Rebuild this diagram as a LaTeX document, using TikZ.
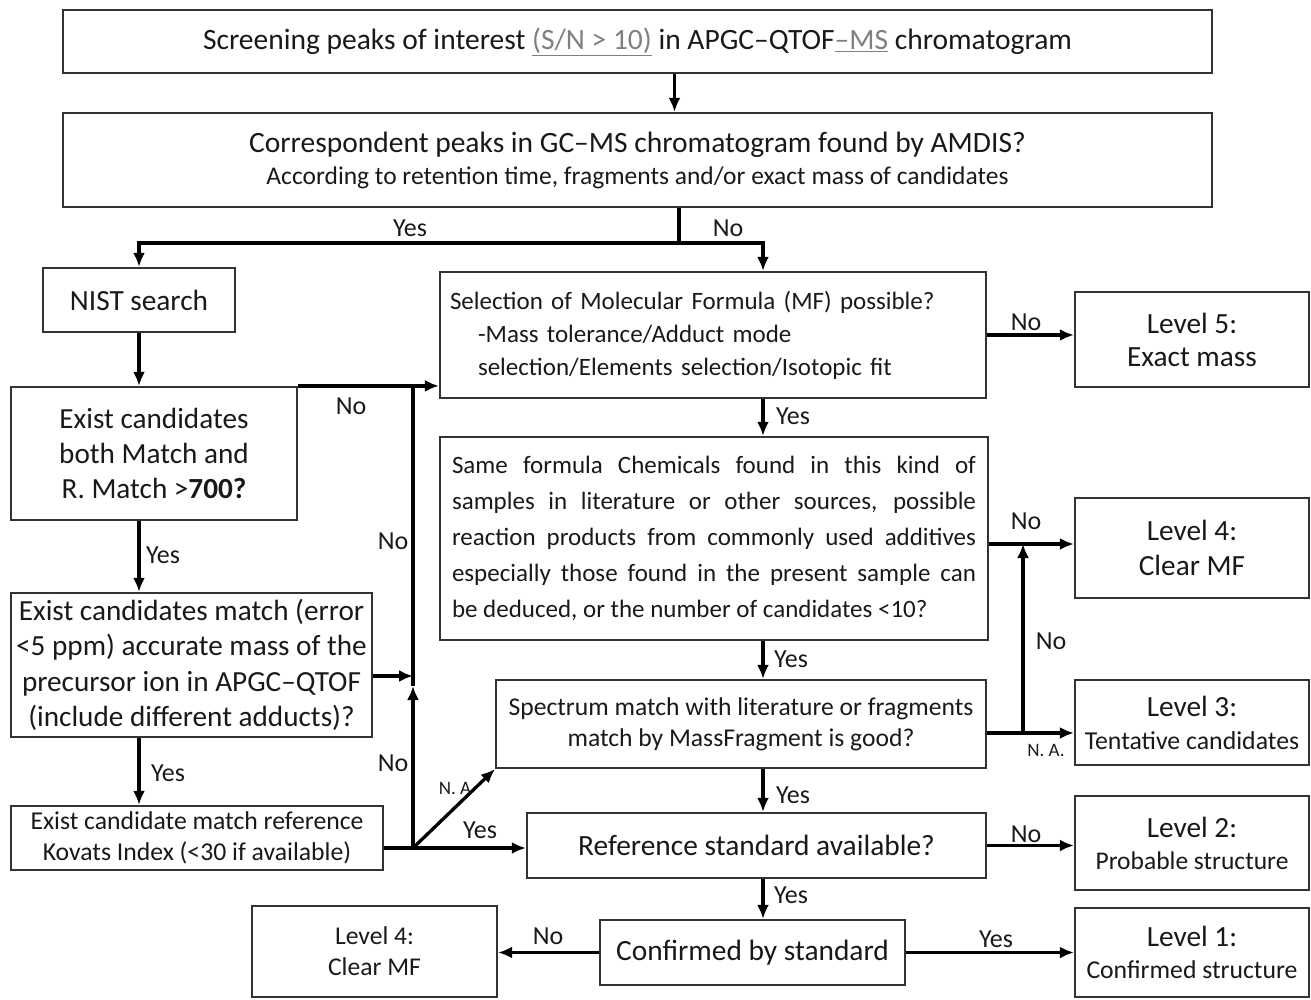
\documentclass[tikz,border=0pt]{standalone}
\usepackage{fontspec}
\setmainfont{Carlito}
\usepackage{tikz}
\usetikzlibrary{arrows.meta}

\begin{document}
\begin{tikzpicture}[x=1pt,y=-1pt,
	box/.style={draw=black!80,line width=2.2pt,inner sep=0pt,align=center,text=black!90},
	arr/.style={line width=3.3pt,-{Latex[length=14pt,width=12pt]}},
	ln/.style={line width=3.3pt},
	lbl/.style={font=\fontsize{26}{30}\selectfont,text=black!90},
	small/.style={font=\fontsize{19}{22}\selectfont,text=black!90}]
	
	\useasboundingbox (0,0) rectangle (1311,999);
	
	% top part
	\node[box,minimum width=1149pt,minimum height=63pt,font=\fontsize{29.5}{34}\selectfont] (top) at (637.5,41.5)
		{Screening peaks of interest \textcolor{gray}{\underline{(S/N > 10)}} in APGC--QTOF\textcolor{gray}{\underline{--MS}} chromatogram};
	\node[box,minimum width=1149pt,minimum height=94pt,font=\fontsize{29.5}{34}\selectfont] (amdis) at (637.5,160)
		{Correspondent peaks in GC--MS chromatogram found by AMDIS?\\[-2pt]
		{\fontsize{25.5}{28}\selectfont According to retention time, fragments and/or exact mass of candidates}};
	
	% left column
	\node[box,minimum width=192pt,minimum height=64pt,font=\fontsize{29.3}{34}\selectfont] (nist) at (139,300) {NIST search};
	\node[box,minimum width=286pt,minimum height=133pt,font=\fontsize{29.2}{35}\selectfont] (ex1) at (154,453.5)
		{Exist candidates\\both Match and\\R. Match >\textbf{700?}};
	\node[box,minimum width=361pt,minimum height=144pt,font=\fontsize{29.2}{35.5}\selectfont] (ex2) at (191.5,665)
		{Exist candidates match (error\\<5 ppm) accurate mass of the\\precursor ion in APGC--QTOF\\(include different adducts)?};
	\node[box,minimum width=372pt,minimum height=64pt,font=\fontsize{25.7}{31}\selectfont] (kov) at (197,838)
		{Exist candidate match reference\\Kovats Index (<30 if available)};
	
	% middle column
	\node[box,minimum width=546pt,minimum height=126pt,text width=526pt,align=left,font=\fontsize{25}{33}\selectfont] (mf) at (713,335)
		{Selection of Molecular Formula (MF) possible?\\
		\hspace*{28pt}-Mass tolerance/Adduct mode\\
		\hspace*{28pt}selection/Elements selection/Isotopic fit};
	\node[box,minimum width=548pt,minimum height=203pt,text width=524pt,align=justify,font=\fontsize{25}{36}\selectfont] (same) at (714,538.5)
		{Same formula Chemicals found in this kind of\linebreak
		samples in literature or other sources, possible\linebreak
		reaction products from commonly used additives\linebreak
		especially those found in the present sample can\linebreak
		be deduced, or the number of candidates <10?};
	\node[box,minimum width=490pt,minimum height=88pt,font=\fontsize{25.6}{31}\selectfont] (spec) at (741,724)
		{Spectrum match with literature or fragments\\match by MassFragment is good?};
	\node[box,minimum width=459pt,minimum height=65pt,font=\fontsize{29.4}{34}\selectfont] (ref) at (756.5,845.5)
		{Reference standard available?};
	\node[box,minimum width=305pt,minimum height=65pt,font=\fontsize{29.4}{34}\selectfont] (conf) at (752.5,952.5)
		{Confirmed by standard};
	
	% levels
	\node[box,minimum width=234pt,minimum height=95pt,font=\fontsize{29.3}{33}\selectfont] (lv5) at (1192,339.5)
		{Level 5:\\Exact mass};
	\node[box,minimum width=234pt,minimum height=100pt,font=\fontsize{29.3}{35}\selectfont] (lv4r) at (1192,548)
		{Level 4:\\Clear MF};
	\node[box,minimum width=234pt,minimum height=85pt,font=\fontsize{29.3}{33}\selectfont] (lv3) at (1192,722.5)
		{Level 3:\\{\fontsize{25.8}{28}\selectfont Tentative candidates}};
	\node[box,minimum width=234pt,minimum height=94pt,font=\fontsize{29.3}{32}\selectfont] (lv2) at (1192,843)
		{Level 2:\\{\fontsize{25.5}{28}\selectfont Probable structure}};
	\node[box,minimum width=234pt,minimum height=89pt,font=\fontsize{29.3}{32}\selectfont] (lv1) at (1192,952.5)
		{Level 1:\\{\fontsize{25.7}{28}\selectfont Confirmed structure}};
	\node[box,minimum width=245pt,minimum height=91pt,font=\fontsize{25.6}{31}\selectfont] (lv4l) at (374.5,951.5)
		{Level 4:\\Clear MF};
	
	\coordinate (mc) at (763,0);
	\coordinate (jn) at (413,848);
	\coordinate (up) at (413,686);
	\coordinate (r4) at (1023,544);
	\coordinate (r3) at (1023,733);
	
	% connectors
	\draw[arr] ([xshift=37pt]top.south) -- ([xshift=37pt]amdis.north);
	\draw[ln] ([xshift=41.5pt]amdis.south) -- ++(0,35) coordinate (split);
	\draw[arr] (split) -| (nist.north);
	\draw[arr] (split) -| (mf.north -| mc);
	\node[lbl] at (410,228) {Yes};
	\node[lbl] at (728,228) {No};
	
	\draw[arr] (nist) -- (nist |- ex1.north);
	\draw[arr] (ex1.south -| nist.south) -- (ex2.north -| nist.south);
	\draw[arr] (ex2.south -| nist.south) -- (kov.north -| nist.south);
	\node[lbl] at (163,555) {Yes};
	\node[lbl] at (168,773) {Yes};
	
	\draw[arr] (ex1.north east) -- (ex1.north east -| mf.west);
	\draw[ln] (kov.east |- jn) -- (jn);
	\draw[arr] (jn) -- (up);
	\draw[ln] (up) -- (jn |- ex1.north);
	\draw[arr] ([yshift=-11pt]ex2.east) -- ([yshift=-11pt]ex2.east -| jn);
	\draw[arr] (jn) -- (ref.west |- jn);
	\draw[arr] (jn) -- (spec.south west);
	\node[lbl] at (351,406) {No};
	\node[lbl] at (393,541) {No};
	\node[lbl] at (393,763) {No};
	\node[lbl] at (480,830) {Yes};
	\node[small] at (455,788) {N. A};
	
	\draw[arr] (mf.south -| mc) -- (same.north -| mc);
	\draw[arr] (same.south -| mc) -- (spec.north -| mc);
	\draw[arr] (spec.south -| mc) -- (ref.north -| mc);
	\draw[arr] (ref.south -| mc) -- (conf.north -| mc);
	\node[lbl] at (793,416) {Yes};
	\node[lbl] at (791,659) {Yes};
	\node[lbl] at (793,795) {Yes};
	\node[lbl] at (791,895) {Yes};
	
	\draw[arr] (mf.east) -- (lv5.west |- mf.east);
	\draw[arr] (same.east |- r4) -- (lv4r.west |- r4);
	\draw[arr] (spec.east |- r3) -- (lv3.west |- r3);
	\draw[arr] (r3) -- (r4);
	\draw[arr] (ref.east) -- (lv2.west |- ref.east);
	\draw[arr] (conf.west) -- (lv4l.east |- conf.west);
	\draw[arr] (conf.east) -- (lv1.west |- conf.east);
	\node[lbl] at (1026,322) {No};
	\node[lbl] at (1026,521) {No};
	\node[lbl] at (1051,641) {No};
	\node[small] at (1046,750) {N. A.};
	\node[lbl] at (1026,834) {No};
	\node[lbl] at (548,936) {No};
	\node[lbl] at (996,939) {Yes};
	
\end{tikzpicture}
\end{document}
